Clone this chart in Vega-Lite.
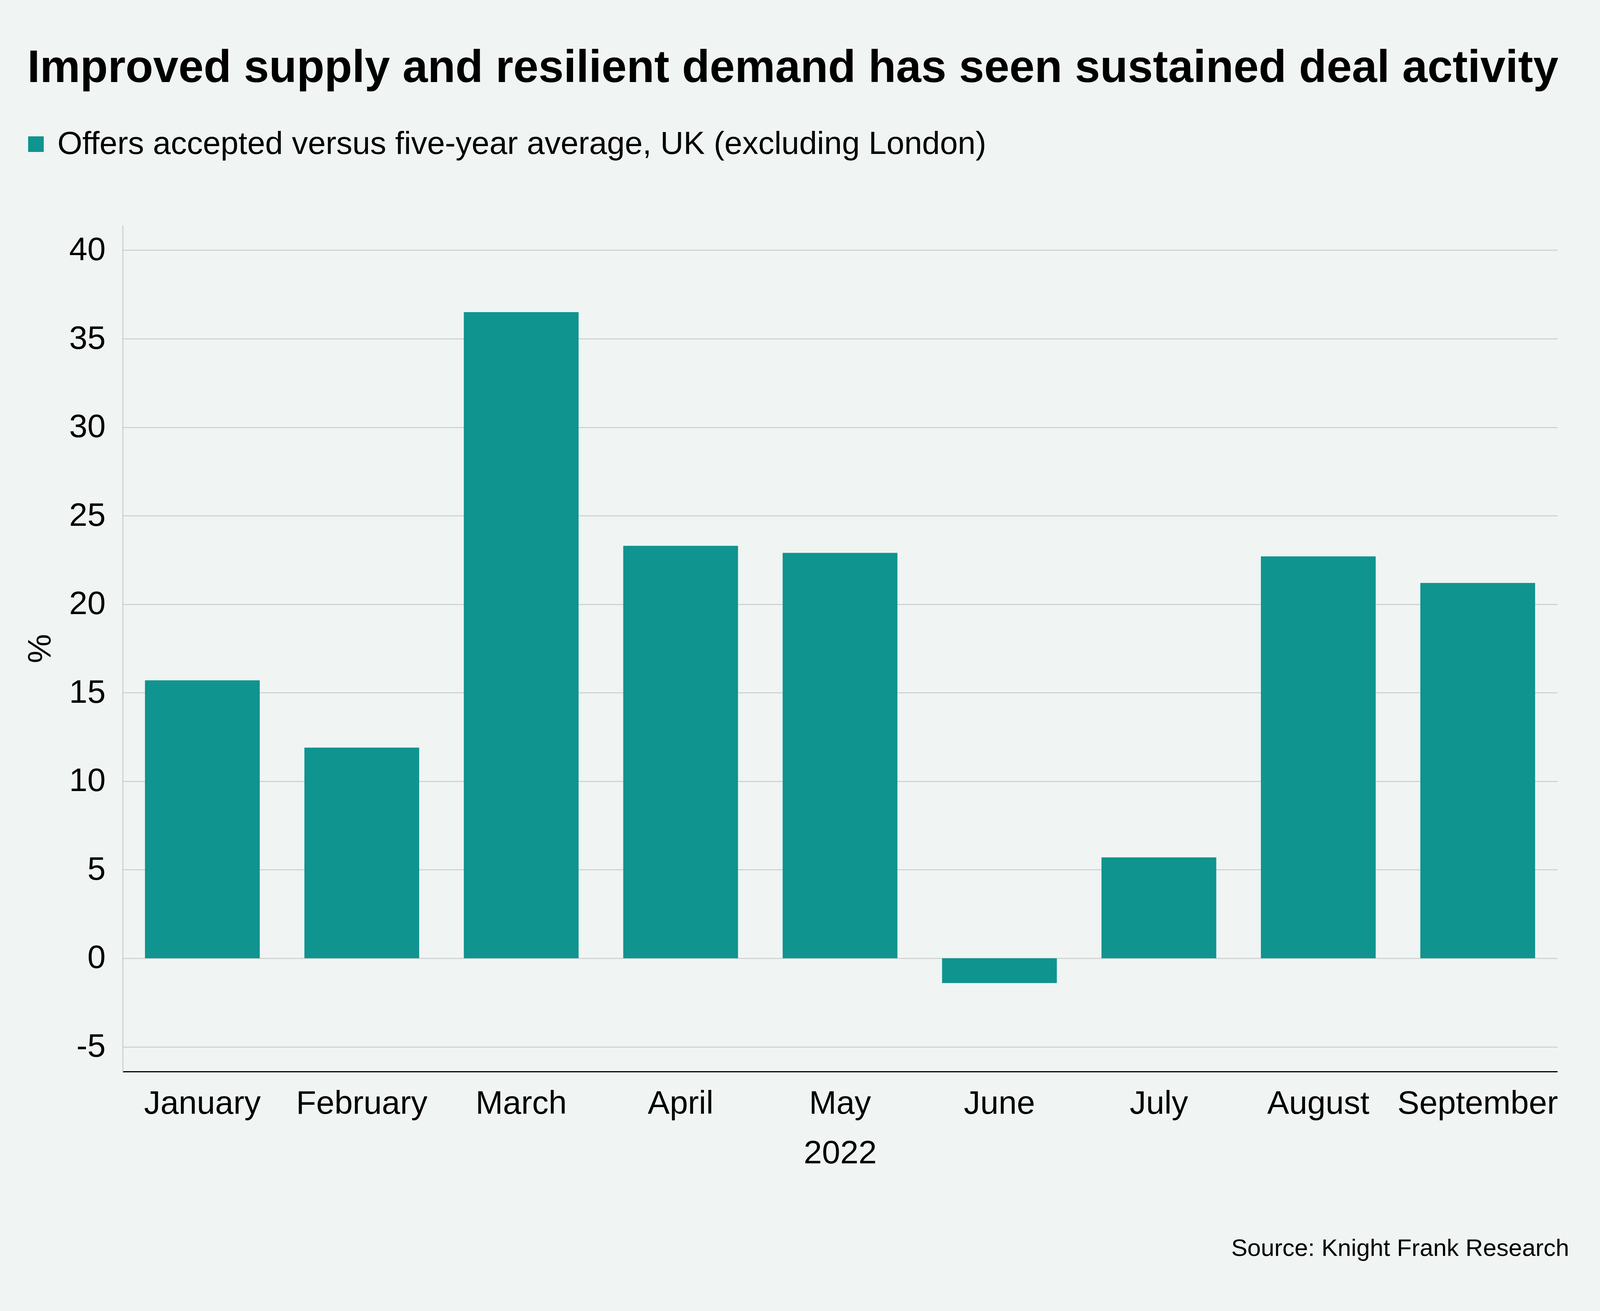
{
  "$schema": "https://vega.github.io/schema/vega-lite/v6.json",
  "autosize": {"type": "none"},
  "width": 3673,
  "height": 2166,
  "padding": {"left": 314, "top": 577, "right": 109, "bottom": 613},
  "background": "#f0f4f2",
  "config": {
    "font": "Liberation Sans",
    "view": {"stroke": null},
    "axis": {"labelFont": "Liberation Sans", "titleFont": "Liberation Sans", "labelColor": "#000000", "titleColor": "#000000"}
  },
  "title": {
    "text": "Source: Knight Frank Research",
    "orient": "bottom",
    "anchor": "end",
    "frame": "group",
    "fontSize": 62,
    "fontWeight": "normal",
    "color": "#000000",
    "font": "Liberation Sans",
    "offset": 172,
    "dx": 30
  },
  "data": {
    "values": [
      {"month": "January", "value": 15.7, "series": "Offers accepted versus five-year average, UK (excluding London)"},
      {"month": "February", "value": 11.9, "series": "Offers accepted versus five-year average, UK (excluding London)"},
      {"month": "March", "value": 36.5, "series": "Offers accepted versus five-year average, UK (excluding London)"},
      {"month": "April", "value": 23.3, "series": "Offers accepted versus five-year average, UK (excluding London)"},
      {"month": "May", "value": 22.9, "series": "Offers accepted versus five-year average, UK (excluding London)"},
      {"month": "June", "value": -1.4, "series": "Offers accepted versus five-year average, UK (excluding London)"},
      {"month": "July", "value": 5.7, "series": "Offers accepted versus five-year average, UK (excluding London)"},
      {"month": "August", "value": 22.7, "series": "Offers accepted versus five-year average, UK (excluding London)"},
      {"month": "September", "value": 21.2, "series": "Offers accepted versus five-year average, UK (excluding London)"}
    ]
  },
  "mark": {"type": "bar"},
  "encoding": {
    "x": {
      "field": "month",
      "type": "nominal",
      "sort": null,
      "scale": {"paddingInner": 0.28, "paddingOuter": 0.14},
      "axis": {
        "title": "2022",
        "titleFontSize": 84,
        "titleFontWeight": "normal",
        "titlePadding": 44,
        "labelFontSize": 84,
        "labelLimit": 2000,
        "labelAngle": 0,
        "labelPadding": 41,
        "ticks": false,
        "domainColor": "#000000",
        "domainWidth": 3,
        "grid": false
      }
    },
    "y": {
      "field": "value",
      "type": "quantitative",
      "scale": {"domain": [-6.4, 41.4], "nice": false, "zero": false},
      "axis": {
        "title": "%",
        "titleFontSize": 84,
        "titleFontWeight": "normal",
        "titlePadding": 29,
        "values": [-5, 0, 5, 10, 15, 20, 25, 30, 35, 40],
        "labelExpr": "'' + datum.value",
        "labelFontSize": 84,
        "labelPadding": 44,
        "ticks": false,
        "domainColor": "#c8cccb",
        "domainWidth": 2.5,
        "grid": true,
        "gridColor": "#cbcfce",
        "gridWidth": 2.5
      }
    },
    "color": {
      "field": "series",
      "type": "nominal",
      "scale": {"range": ["#0f9490"]},
      "legend": {
        "orient": "none",
        "legendX": -244,
        "legendY": -459,
        "padding": 0,
        "title": "Improved supply and resilient demand has seen sustained deal activity",
        "titleFont": "Liberation Sans",
        "titleFontSize": 116,
        "titleFontWeight": "bold",
        "titleColor": "#000000",
        "titleLimit": 6000,
        "titlePadding": 94,
        "labelFont": "Liberation Sans",
        "labelFontSize": 82,
        "labelColor": "#000000",
        "labelLimit": 6000,
        "labelOffset": 14,
        "symbolType": "square",
        "symbolSize": 1600,
        "symbolOffset": -19,
        "symbolStrokeWidth": 0,
        "symbolOpacity": 1
      }
    }
  }
}
